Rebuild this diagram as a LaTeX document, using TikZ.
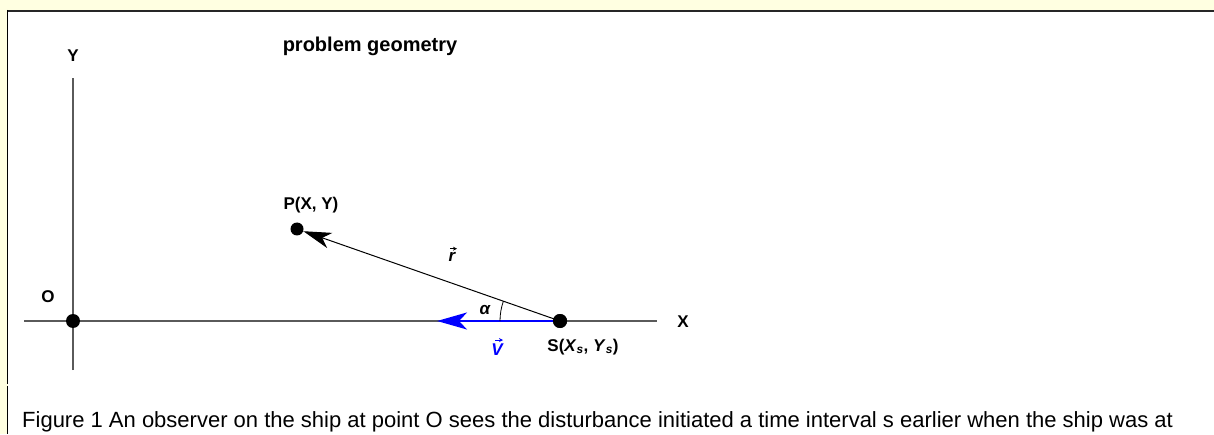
\documentclass[tikz,border=0pt]{standalone}
\usepackage{fontspec}
\setmainfont{Liberation Sans}
\usetikzlibrary{arrows.meta}
\definecolor{paleyellow}{RGB}{255,255,225}
\definecolor{axisgray}{RGB}{90,90,90}
\definecolor{vblue}{RGB}{0,0,255}
\tikzset{
  lbl/.style={font=\fontsize{17}{20}\selectfont\bfseries, inner sep=0pt},
  dot/.style={circle, fill=black, inner sep=0pt, minimum size=14pt},
  axis/.style={draw=axisgray, line width=1.3pt},
  vecarrow/.style={line width=1.1pt, -{Stealth[length=4pt, width=4pt]}},
}
\begin{document}
\begin{tikzpicture}[x=1pt,y=1pt]
\useasboundingbox (0,0) rectangle (1214,434);
% background
\fill[paleyellow] (0,0) rectangle (1214,434);
\fill[white] (8,0) rectangle (1214,422);
% frame
\draw[line width=2pt, black!85] (7,423) -- (1214,423);
\draw[line width=1.5pt, black] (7.5,424) -- (7.5,50);
\draw[line width=1.5pt, black] (7.5,48) -- (7.5,0);
% axes coordinates
\coordinate (yt) at (73,356);
\coordinate (yb) at (73,64);
\coordinate (xl) at (24,113);
\coordinate (xr) at (657,113);
\coordinate (vtip) at (437,113);
\draw[axis] (yb) -- (yt);
\draw[axis] (xl) -- (xr);
% points
\node[dot] (O) at (73,113) {};
\node[dot] (S) at (560,113) {};
\node[dot, minimum size=13pt] (P) at (297,205) {};
% vectors
\draw[line width=1pt, -{Stealth[length=28pt, width=16pt, inset=8pt]}] (S.center) -- (P);
\draw[vblue, line width=1.8pt, -{Stealth[length=30pt, width=17pt, inset=8pt]}] (S.center) -- (vtip);
\node[dot] at (S) {};
% angle arc
\draw[line width=0.8pt] ([shift={(180:60pt)}]S.center) arc[start angle=180, end angle=160.7, radius=60pt];
% labels
\node[lbl] (Ylab) at (73,378) {Y};
\node[lbl] (Olab) at (48,137) {O};
\node[lbl] (Xlab) at (683,112) {X};
\node[font=\fontsize{20}{24}\selectfont\bfseries, inner sep=0pt] (title) at (370,388) {problem geometry};
\node[lbl] (Plab) at (311,229) {P(X, Y)};
\node[lbl, font=\fontsize{17}{20}\selectfont\bfseries\itshape, anchor=base] (rlab) at (452,173) {r};
\draw[vecarrow] ([xshift=-2pt, yshift=3pt]rlab.north) -- ++(7pt,0);
\node[lbl] (alab) at (485,124) {\itshape α};
\node[lbl, font=\fontsize{17}{20}\selectfont\bfseries\itshape, text=vblue, anchor=base] (Vlab) at (497,79) {V};
\draw[vecarrow, vblue] ([xshift=-2pt, yshift=3pt]Vlab.north) -- ++(8pt,0);
\node[lbl] (Slab) at (583,87) {S(\textit{X}\textsubscript{\textit{s}}, \textit{Y}\textsubscript{\textit{s}})};
\node[anchor=base west, inner sep=0pt, font=\fontsize{22}{26}\selectfont] (cap) at (22,7) {Figure 1 An observer on the ship at point O sees the disturbance initiated a time interval s earlier when the ship was at};
\end{tikzpicture}
\end{document}
